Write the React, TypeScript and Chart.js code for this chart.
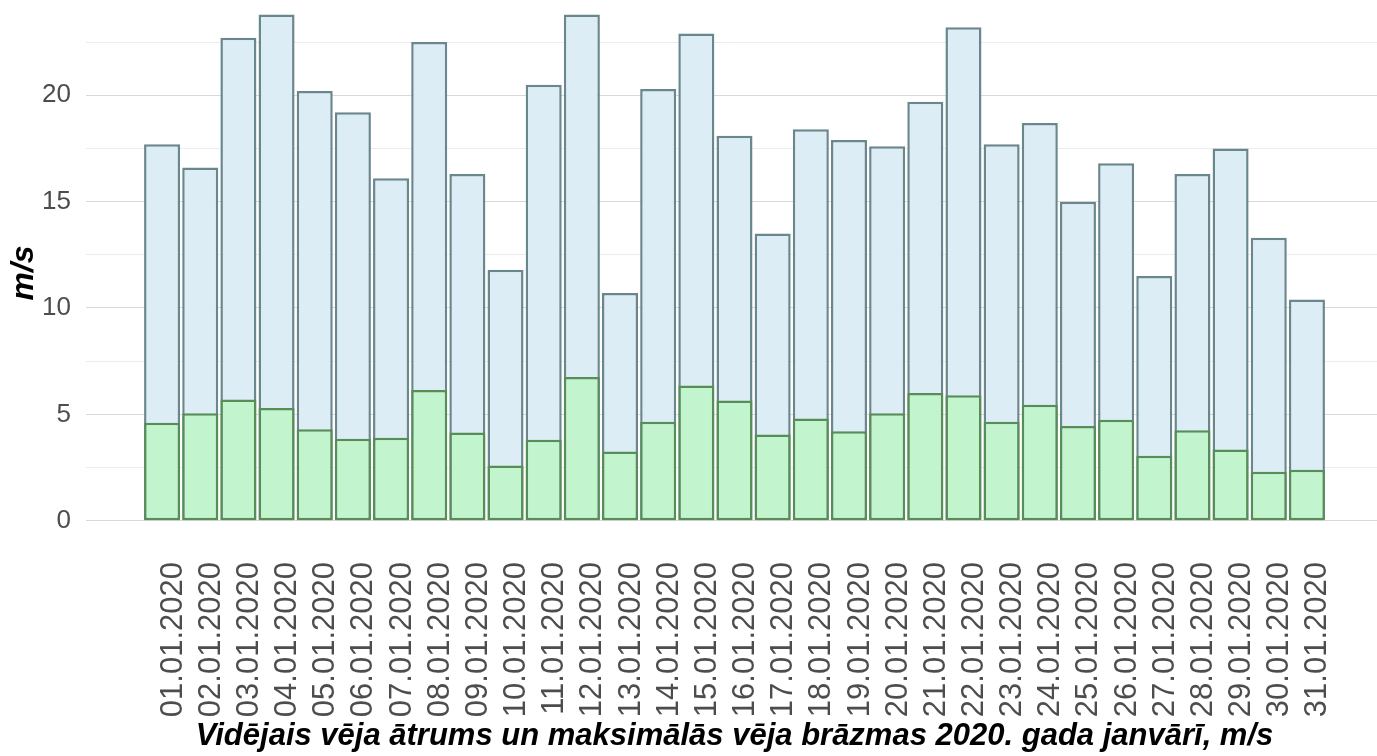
import React, { useEffect, useRef } from "react";
import { Chart, registerables } from "chart.js";

Chart.register(...registerables);

const dates = [
  "01.01.2020", "02.01.2020", "03.01.2020", "04.01.2020", "05.01.2020", "06.01.2020",
  "07.01.2020", "08.01.2020", "09.01.2020", "10.01.2020", "11.01.2020", "12.01.2020",
  "13.01.2020", "14.01.2020", "15.01.2020", "16.01.2020", "17.01.2020", "18.01.2020",
  "19.01.2020", "20.01.2020", "21.01.2020", "22.01.2020", "23.01.2020", "24.01.2020",
  "25.01.2020", "26.01.2020", "27.01.2020", "28.01.2020", "29.01.2020", "30.01.2020",
  "31.01.2020",
];

const maxGust = [
  17.7, 16.6, 22.7, 23.8, 20.2, 19.2, 16.1, 22.5, 16.3, 11.8, 20.5, 23.8, 10.7, 20.3, 22.9, 18.1,
  13.5, 18.4, 17.9, 17.6, 19.7, 23.2, 17.7, 18.7, 15.0, 16.8, 11.5, 16.3, 17.5, 13.3, 10.4,
];

const avgWind = [
  4.6, 5.05, 5.7, 5.3, 4.3, 3.85, 3.9, 6.15, 4.15, 2.6, 3.8, 6.75, 3.25, 4.65, 6.35, 5.65,
  4.05, 4.8, 4.2, 5.05, 6.0, 5.9, 4.65, 5.45, 4.45, 4.75, 3.05, 4.25, 3.35, 2.3, 2.4,
];

const yGridValues = [0, 2.5, 5, 7.5, 10, 12.5, 15, 17.5, 20, 22.5];
const yLabelStep = 5;
const yMin = -1.19;
const yMax = 24.48;

const chartTitle = "Vidējais vēja ātrums un maksimālās vēja brāzmas 2020. gada janvārī, m/s";
const yTitle = "m/s";

const gridColor = (ctx: any) =>
  ctx.tick && ctx.tick.value % yLabelStep === 0 ? "#d9d9d9" : "#ececec";

const noPad = (scale: any) => {
  scale.paddingTop = 0;
  scale.paddingBottom = 0;
  scale.paddingLeft = 0;
  scale.paddingRight = 0;
};

export default function App() {
  const canvasRef = useRef<HTMLCanvasElement | null>(null);

  useEffect(() => {
    if (!canvasRef.current) return;
    const buildTicks = (scale: any) => {
      scale.ticks = yGridValues.map((v) => ({ value: v }));
    };
    const chart = new Chart(canvasRef.current, {
      type: "bar",
      data: {
        labels: dates,
        datasets: [
          {
            label: "Vidējais vēja ātrums",
            data: avgWind,
            backgroundColor: "#c2f4cd",
            borderColor: "#578e58",
            borderWidth: 2.5,
            borderSkipped: false,
            grouped: false,
            barPercentage: 0.944,
            categoryPercentage: 1,
          },
          {
            label: "Maksimālās vēja brāzmas",
            data: maxGust,
            backgroundColor: "#dcedf5",
            borderColor: "#6a878e",
            borderWidth: 2.5,
            borderSkipped: false,
            grouped: false,
            barPercentage: 0.944,
            categoryPercentage: 1,
          },
        ],
      },
      options: {
        animation: false,
        responsive: true,
        maintainAspectRatio: false,
        layout: { padding: 0 },
        plugins: {
          legend: { display: false },
          tooltip: { enabled: false },
          title: { display: false },
        },
        scales: {
          x: {
            grid: { display: false, drawTicks: false, tickLength: 0 },
            border: { display: false },
            ticks: {
              autoSkip: false,
              minRotation: 90,
              maxRotation: 90,
              padding: 16,
              labelOffset: 11,
              color: "#4d4d4d",
              font: { family: "Liberation Sans, Arial, sans-serif", size: 31 },
            },
            title: {
              display: true,
              text: chartTitle,
              color: "#000000",
              padding: { top: 0, bottom: 1 },
              font: {
                family: "Liberation Sans, Arial, sans-serif",
                size: 31,
                weight: "bold",
                style: "italic",
              },
            },
            afterFit: (scale: any) => {
              scale.height = 210;
              noPad(scale);
            },
          },
          y: {
            min: yMin,
            max: yMax,
            afterBuildTicks: buildTicks,
            grid: {
              color: gridColor,
              lineWidth: 1,
              drawTicks: true,
              tickLength: 57,
            },
            border: { display: false },
            ticks: {
              padding: 15,
              color: "#4d4d4d",
              font: { family: "Liberation Sans, Arial, sans-serif", size: 26 },
              callback: (v: any) => (Number(v) % yLabelStep === 0 ? String(v) : ""),
            },
            title: {
              display: true,
              text: yTitle,
              color: "#000000",
              padding: { top: 5, bottom: 0 },
              font: {
                family: "Liberation Sans, Arial, sans-serif",
                size: 32,
                weight: "bold",
                style: "italic",
              },
            },
            afterFit: (scale: any) => {
              scale.width = 143;
              noPad(scale);
            },
          },
          y2: {
            position: "right",
            min: yMin,
            max: yMax,
            afterBuildTicks: buildTicks,
            grid: {
              color: gridColor,
              lineWidth: 1,
              drawOnChartArea: false,
              drawTicks: true,
              tickLength: 51,
            },
            border: { display: false },
            ticks: { display: false },
            afterFit: (scale: any) => {
              scale.width = 51;
              noPad(scale);
            },
          },
        },
      },
    });
    return () => chart.destroy();
  }, []);

  return (
    <div style={{ position: "absolute", left: 0, top: 0, width: 1377, height: 756 }}>
      <canvas ref={canvasRef} />
    </div>
  );
}
